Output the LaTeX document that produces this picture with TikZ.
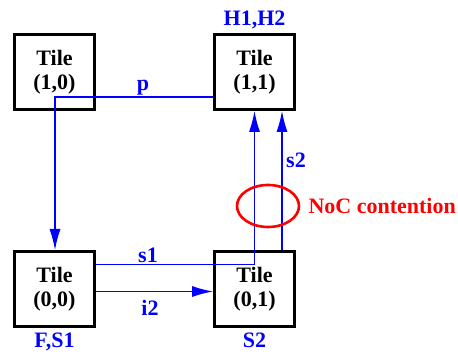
\documentclass[tikz,border=0pt]{standalone}
\usepackage{fontspec}
\setmainfont{Liberation Serif}
\usetikzlibrary{positioning, arrows.meta, shapes.geometric, calc}
\tikzset{>={Latex[length=21pt, width=11pt]}}

\begin{document}
\begin{tikzpicture}[
    x=1pt, y=1pt,
    font=\bfseries\fontsize{22}{24}\selectfont,
    node distance=117pt and 117pt,
    tile/.style={draw, line width=3pt, align=center, fill=white,
                 minimum width=80pt, minimum height=75pt, inner sep=0pt},
    flow/.style={blue, line width=1.2pt},
    flowlabel/.style={text=blue, inner sep=2pt},
    hotspot/.style={draw=red, ellipse, line width=2.6pt,
                    minimum width=62pt, minimum height=42pt},
  ]
  \useasboundingbox (0,0) rectangle (458,361);
  % the four tiles
  \node[tile] (t10) at (54.5,289) {Tile\\(1,0)};
  \node[tile, right=of t10] (t11) {Tile\\(1,1)};
  \node[tile, below=139pt of t10] (t00) {Tile\\(0,0)};
  \node[tile, right=of t00] (t01) {Tile\\(0,1)};
  % tasks mapped on the tiles
  \node[flowlabel, above=2pt of t11] (h) {H1,H2};
  \node[flowlabel, below=3pt of t00] (fs) {F,S1};
  \node[flowlabel, below=3pt of t01] (s) {S2};
  % paths through the NoC
  \coordinate (pstart) at ($(t10.center)+(0.5,-25)$);
  \coordinate (s1start) at ($(t00.east)+(0,24.5)$);
  \draw[flow, ->] (t11.west |- pstart) -- (pstart) -- (pstart |- t00.north);
  \draw[flow, ->] (s1start) -| (t11.south);
  \draw[flow, ->] ($(t01.north)+(27.5,0)$) -- ($(t11.south)+(27.5,0)$);
  \draw[flow, ->] ($(t00.east)+(0,-2.5)$) -- ($(t01.west)+(0,-2.5)$);
  \node[flowlabel] (lp) at (143,273) {p};
  \node[flowlabel] (ls1) at (148,106) {s1};
  \node[flowlabel] (li2) at (150,53) {i2};
  \node[flowlabel] (ls2) at (296,201) {s2};
  % contention
  \node[hotspot] (noc) at (268,155) {};
  \node[text=red, right=6pt of noc, inner sep=2pt] (lnoc) {NoC contention};
\end{tikzpicture}
\end{document}
